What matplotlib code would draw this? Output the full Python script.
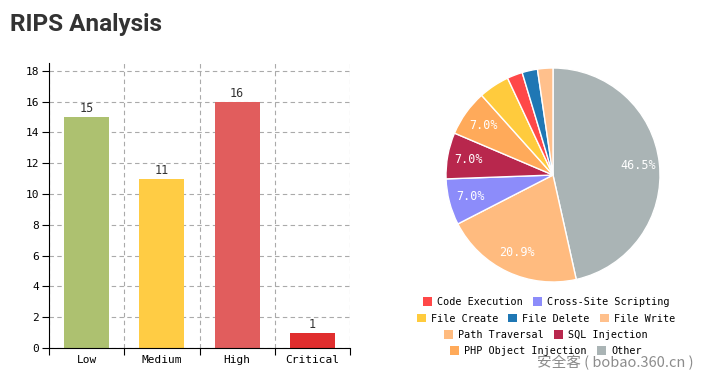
import matplotlib
matplotlib.use("Agg")
import matplotlib.pyplot as plt
import numpy as np

# --- data --------------------------------------------------------------------
severity = ["Low", "Medium", "High", "Critical"]
counts = [15, 11, 16, 1]
bar_colors = ["#adc170", "#ffcc44", "#e15d5d", "#e02e2e"]

vuln_types = ["Other", "Path Traversal", "Cross-Site Scripting", "SQL Injection",
              "PHP Object Injection", "File Create", "Code Execution",
              "File Delete", "File Write"]
vuln_counts = [20, 9, 3, 3, 3, 2, 1, 1, 1]
pie_colors = ["#aab4b5", "#ffbb7f", "#8c8cfa", "#b8274d", "#ffaa5a",
              "#ffcb3d", "#ff4848", "#1f77b4", "#ffc08c"]
legend_rows = [["Code Execution", "Cross-Site Scripting"],
               ["File Create", "File Delete", "File Write"],
               ["Path Traversal", "SQL Injection"],
               ["PHP Object Injection", "Other"]]

mono = "DejaVu Sans Mono"
W, H = 708, 379

fig = plt.figure(figsize=(W / 100, H / 100), dpi=100)
fig.text(10 / W, 1 - 25 / H, "RIPS Analysis", fontsize=17.5, fontweight="bold",
         family="Roboto", color="#333333", va="center", ha="left")

# --- bar chart ---------------------------------------------------------------
ax = fig.add_axes([49 / W, 1 - 348 / H, 301 / W, 285 / H])
x = np.arange(len(severity))
bars = ax.bar(x, counts, width=0.6, color=bar_colors, zorder=2)
for xi, c in zip(x, counts):
    ax.text(xi, c + 0.1, str(c), ha="center", va="bottom", fontsize=8.5,
            family=mono, color="#333333")
ax.set_xlim(-0.5, len(severity) - 0.5)
ax.set_ylim(0, 18.5)
ax.set_yticks(np.arange(0, 19, 2))
ax.set_xticks(np.arange(-0.5, len(severity)), minor=False)
ax.set_xticklabels([])
ax.set_xticks(x, minor=True)
ax.set_xticklabels(severity, minor=True, family=mono, fontsize=8)
ax.tick_params(axis="x", which="minor", length=0, pad=5)
ax.tick_params(axis="x", which="major", length=5, direction="out", color="black")
ax.tick_params(axis="y", length=5, direction="out", labelsize=8, pad=2)
for lab in ax.get_yticklabels():
    lab.set_family(mono)
ax.grid(True, which="major", axis="both", linestyle=(0, (4, 3)),
        color="#aaaaaa", linewidth=0.8, zorder=0)
ax.spines["top"].set_visible(False)
ax.spines["right"].set_visible(False)

# --- pie chart ---------------------------------------------------------------
cx, cy, r = 553, 175, 107
pax = fig.add_axes([(cx - r) / W, 1 - (cy + r) / H, 2 * r / W, 2 * r / H])
wedges, _, autotexts = pax.pie(
    vuln_counts, colors=pie_colors, startangle=90, counterclock=False,
    autopct=lambda p: f"{p:.1f}%" if p > 5 else "", pctdistance=0.8,
    wedgeprops=dict(edgecolor="white", linewidth=1),
    textprops=dict(color="white", family=mono, fontsize=8.5))
pax.set_xlim(-1, 1)
pax.set_ylim(-1, 1)
pax.set_aspect("equal")

handles = dict(zip(vuln_types, wedges))
row_y = [302, 318.5, 335, 351]
for names, yy in zip(legend_rows, row_y):
    leg = fig.legend([handles[n] for n in names], names, loc="center",
                     bbox_to_anchor=(546 / W, 1 - yy / H), ncol=len(names),
                     frameon=False, prop=dict(family=mono, size=7.3),
                     handlelength=0.9, handleheight=0.9, handletextpad=0.5,
                     columnspacing=1.0, borderpad=0, borderaxespad=0)
    for h in leg.legend_handles:
        h.set_edgecolor("none")

fig.text(537 / W, 1 - 362 / H, "安全客 ( bobao.360.cn )", fontsize=10.5,
         family=["Noto Sans CJK SC", "DejaVu Sans"], color="#8c8c8c",
         va="center", ha="left")

fig.savefig("out.png", dpi=100)
